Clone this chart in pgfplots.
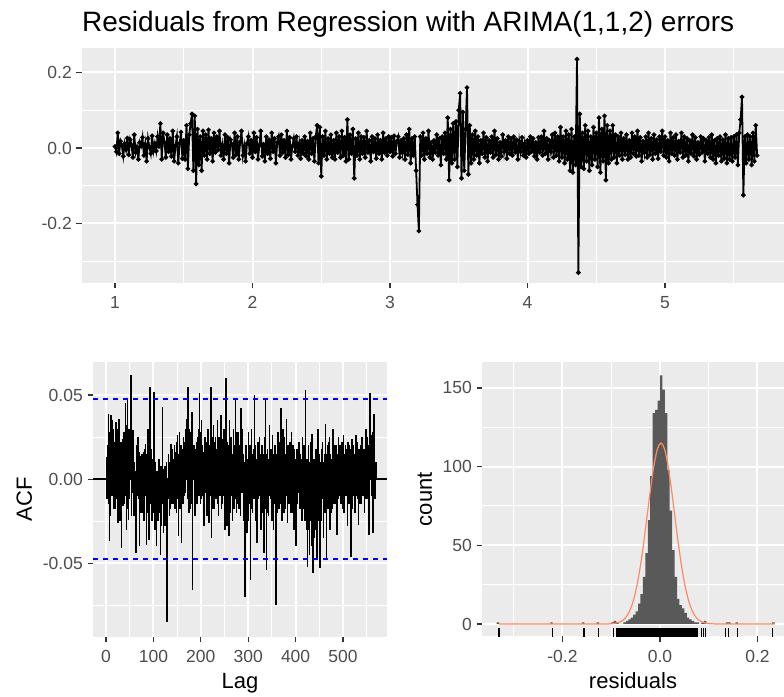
\documentclass[border=0pt]{standalone}
\usepackage{fontspec}
\setmainfont{Liberation Sans}
\usepackage{pgfplots}
\pgfplotsset{compat=1.18}
\definecolor{ggbg}{HTML}{EBEBEB}
\definecolor{ggtext}{HTML}{4D4D4D}
\definecolor{ggtick}{HTML}{333333}
\definecolor{histfill}{HTML}{595959}
\definecolor{curve}{HTML}{FF8A62}
\newcommand\ticksize{\fontsize{17.5bp}{20bp}\selectfont}
\newcommand\labsize{\fontsize{22bp}{26bp}\selectfont}
\pgfplotsset{
 gg/.style={
  scale only axis,
  scaled ticks=false,
  axis background/.style={fill=ggbg},
  axis x line*=bottom, axis y line*=left,
  axis line style={draw=none},
  grid=both,
  major grid style={white, line width=2bp},
  minor grid style={white, line width=1bp},
  tick align=outside,
  major tick length=5.5bp,
  minor tick length=0pt,
  tick style={color=ggtick, line width=1.1bp},
  xticklabel style={font=\ticksize, text=ggtext, anchor=north, inner sep=0pt, yshift=-8bp},
  yticklabel style={font=\ticksize, text=ggtext, anchor=east, inner sep=0pt, xshift=-4.5bp},
  every axis x label/.style={at={(axis description cs:0.5,-0.191)}, anchor=base, font=\labsize},
 }
}
\begin{document}
\begin{tikzpicture}
\useasboundingbox (0,0) rectangle (784bp,697bp);
% ---------------- top: residual series ----------------
\begin{axis}[gg, at={(82bp,414bp)}, anchor=south west, width=702bp, height=235bp,
  xmin=0.760, xmax=5.8655, ymin=-0.3576, ymax=0.2649,
  xtick={1,2,3,4,5}, xticklabels={1,2,3,4,5}, minor xtick={1.5,2.5,3.5,4.5,5.5},
  ytick={-0.2,0,0.2}, yticklabels={-0.2,0.0,0.2}, minor ytick={-0.3,-0.1,0.1},
  title={Residuals from Regression with ARIMA(1,1,2) errors},
  title style={font=\fontsize{28bp}{32bp}\selectfont, at={(axis description cs:0,1)}, anchor=base west, inner sep=0pt, yshift=11bp}]
\addplot[black, line width=1.8bp, mark=*, mark size=1.3bp, mark options={draw=none, fill=black}] coordinates {
(1.00,0.004)(1.01,-0.010)(1.02,0.040)(1.03,-0.015)(1.04,0.018)(1.05,0.006)(1.06,-0.022)(1.07,0.012)(1.08,-0.005)(1.09,0.026)
(1.10,-0.018)(1.11,0.022)(1.12,0.008)(1.13,-0.025)(1.14,0.035)(1.15,-0.012)(1.16,0.003)(1.17,-0.030)(1.18,0.015)(1.19,0.005)
(1.20,0.028)(1.21,-0.020)(1.22,0.010)(1.23,-0.035)(1.24,0.025)(1.25,0.003)(1.26,-0.015)(1.27,0.032)(1.28,-0.008)(1.29,0.012)
(1.30,-0.008)(1.31,0.030)(1.32,0.004)(1.33,0.065)(1.34,-0.030)(1.35,0.040)(1.36,0.015)(1.37,-0.025)(1.38,0.035)(1.39,-0.010)
(1.40,0.025)(1.41,-0.022)(1.42,0.045)(1.43,-0.035)(1.44,0.006)(1.45,0.030)(1.46,-0.040)(1.47,0.012)(1.48,0.042)(1.49,-0.028)
(1.50,0.020)(1.51,-0.030)(1.52,0.060)(1.53,-0.055)(1.54,0.035)(1.55,0.065)(1.56,0.090)(1.57,-0.060)(1.58,0.085)(1.59,-0.095)
(1.60,0.050)(1.61,-0.045)(1.62,0.030)(1.63,-0.060)(1.64,0.045)(1.65,-0.020)(1.66,0.035)(1.67,-0.030)(1.68,0.048)(1.69,-0.015)
(1.70,0.025)(1.71,-0.035)(1.72,0.040)(1.73,-0.012)(1.74,0.030)(1.75,-0.005)(1.76,0.045)(1.77,-0.020)(1.78,0.008)(1.79,-0.030)
(1.80,0.035)(1.81,-0.015)(1.82,0.028)(1.83,-0.040)(1.84,0.022)(1.85,0.010)(1.86,-0.025)(1.87,0.040)(1.88,-0.018)(1.89,0.030)
(1.90,-0.030)(1.91,0.015)(1.92,0.045)(1.93,-0.020)(1.94,0.005)(1.95,-0.035)(1.96,0.012)(1.97,0.030)(1.98,-0.015)(1.99,0.020)
(2.00,-0.025)(2.01,0.040)(2.02,-0.010)(2.03,0.028)(2.04,-0.030)(2.05,0.008)(2.06,0.045)(2.07,-0.022)(2.08,0.010)(2.09,-0.035)
(2.10,0.030)(2.11,-0.015)(2.12,0.022)(2.13,-0.028)(2.14,0.040)(2.15,-0.010)(2.16,0.025)(2.17,-0.040)(2.18,0.015)(2.19,0.030)
(2.20,-0.020)(2.21,0.035)(2.22,-0.012)(2.23,0.020)(2.24,-0.025)(2.25,0.045)(2.26,-0.018)(2.27,0.028)(2.28,-0.030)(2.29,0.005)
(2.30,0.025)(2.31,-0.010)(2.32,0.030)(2.33,-0.020)(2.34,0.012)(2.35,-0.028)(2.36,0.020)(2.37,-0.015)(2.38,0.030)(2.39,-0.022)
(2.40,0.018)(2.41,-0.030)(2.42,0.040)(2.43,-0.015)(2.44,0.025)(2.45,-0.035)(2.46,0.030)(2.47,0.060)(2.48,-0.040)(2.49,0.055)
(2.50,-0.075)(2.51,0.030)(2.52,-0.020)(2.53,0.045)(2.54,-0.030)(2.55,0.025)(2.56,-0.015)(2.57,0.035)(2.58,-0.025)(2.59,0.020)
(2.60,-0.030)(2.61,0.040)(2.62,-0.012)(2.63,0.030)(2.64,-0.025)(2.65,0.045)(2.66,-0.020)(2.67,0.028)(2.68,-0.035)(2.69,0.075)
(2.70,-0.030)(2.71,0.035)(2.72,-0.015)(2.73,0.050)(2.74,-0.080)(2.75,0.025)(2.76,-0.020)(2.77,0.040)(2.78,-0.030)(2.79,0.030)
(2.80,-0.015)(2.81,0.028)(2.82,-0.025)(2.83,0.045)(2.84,-0.012)(2.85,0.020)(2.86,-0.035)(2.87,0.030)(2.88,-0.010)(2.89,0.025)
(2.90,-0.028)(2.91,0.035)(2.92,-0.015)(2.93,0.020)(2.94,-0.030)(2.95,0.040)(2.96,-0.012)(2.97,0.025)(2.98,-0.020)(2.99,0.030)
(3.00,-0.010)(3.01,0.028)(3.02,-0.022)(3.03,0.032)(3.04,-0.015)(3.05,0.018)(3.06,0.030)(3.07,-0.025)(3.08,0.020)(3.09,-0.012)
(3.10,0.025)(3.11,-0.030)(3.12,0.035)(3.13,-0.018)(3.14,0.050)(3.15,-0.040)(3.16,0.025)(3.17,-0.020)(3.18,0.030)(3.19,-0.060)
(3.20,-0.150)(3.21,-0.220)(3.22,0.030)(3.23,-0.020)(3.24,0.040)(3.25,-0.030)(3.26,0.025)(3.27,-0.015)(3.28,0.045)(3.29,-0.025)
(3.30,0.015)(3.31,-0.030)(3.32,0.020)(3.33,-0.012)(3.34,0.035)(3.35,-0.020)(3.36,0.025)(3.37,-0.045)(3.38,0.030)(3.39,-0.015)
(3.40,0.040)(3.41,-0.030)(3.42,0.080)(3.43,-0.085)(3.44,0.050)(3.45,-0.040)(3.46,0.065)(3.47,-0.030)(3.48,0.070)(3.49,-0.050)
(3.50,0.100)(3.51,0.145)(3.52,-0.080)(3.53,0.095)(3.54,-0.060)(3.55,0.050)(3.56,0.160)(3.57,-0.070)(3.58,0.060)(3.59,-0.040)
(3.60,0.035)(3.61,-0.030)(3.62,0.045)(3.63,-0.020)(3.64,0.030)(3.65,-0.040)(3.66,0.020)(3.67,-0.015)(3.68,0.040)(3.69,-0.025)
(3.70,0.028)(3.71,-0.035)(3.72,0.020)(3.73,-0.012)(3.74,0.030)(3.75,-0.025)(3.76,0.045)(3.77,-0.018)(3.78,0.025)(3.79,-0.030)
(3.80,0.015)(3.81,-0.022)(3.82,0.035)(3.83,-0.010)(3.84,0.020)(3.85,-0.028)(3.86,0.030)(3.87,-0.015)(3.88,0.025)(3.89,-0.020)
(3.90,0.030)(3.91,-0.012)(3.92,0.022)(3.93,-0.030)(3.94,0.018)(3.95,-0.010)(3.96,0.028)(3.97,-0.020)(3.98,0.012)(3.99,-0.025)
(4.00,0.020)(4.01,-0.015)(4.02,0.030)(4.03,-0.010)(4.04,0.025)(4.05,-0.022)(4.06,0.015)(4.07,-0.030)(4.08,0.028)(4.09,-0.012)
(4.10,0.030)(4.11,-0.020)(4.12,0.045)(4.13,-0.015)(4.14,0.025)(4.15,-0.030)(4.16,0.020)(4.17,-0.010)(4.18,0.035)(4.19,-0.025)
(4.20,0.040)(4.21,-0.020)(4.22,0.030)(4.23,-0.035)(4.24,0.055)(4.25,-0.025)(4.26,0.030)(4.27,-0.040)(4.28,0.045)(4.29,-0.030)
(4.30,0.035)(4.31,-0.060)(4.32,0.050)(4.33,-0.065)(4.34,0.030)(4.35,-0.045)(4.36,0.235)(4.37,-0.330)(4.38,0.090)(4.39,-0.050)
(4.40,0.040)(4.41,-0.055)(4.42,0.060)(4.43,-0.035)(4.44,0.045)(4.45,-0.060)(4.46,0.030)(4.47,-0.045)(4.48,0.055)(4.49,-0.030)
(4.50,0.040)(4.51,-0.050)(4.52,0.080)(4.53,-0.065)(4.54,0.050)(4.55,-0.035)(4.56,0.085)(4.57,-0.085)(4.58,0.060)(4.59,-0.040)
(4.60,0.045)(4.61,-0.030)(4.62,0.060)(4.63,-0.025)(4.64,0.035)(4.65,-0.040)(4.66,0.030)(4.67,-0.020)(4.68,0.040)(4.69,-0.030)
(4.70,0.025)(4.71,-0.018)(4.72,0.035)(4.73,-0.030)(4.74,0.020)(4.75,-0.025)(4.76,0.040)(4.77,-0.015)(4.78,0.030)(4.79,-0.022)
(4.80,0.045)(4.81,-0.020)(4.82,0.028)(4.83,-0.035)(4.84,0.018)(4.85,-0.012)(4.86,0.030)(4.87,-0.025)(4.88,0.040)(4.89,-0.018)
(4.90,0.025)(4.91,-0.030)(4.92,0.035)(4.93,-0.015)(4.94,0.022)(4.95,-0.028)(4.96,0.030)(4.97,-0.010)(4.98,0.045)(4.99,-0.020)
(5.00,0.030)(5.01,-0.025)(5.02,0.020)(5.03,-0.035)(5.04,0.040)(5.05,-0.015)(5.06,0.028)(5.07,-0.020)(5.08,0.035)(5.09,-0.030)
(5.10,0.018)(5.11,-0.012)(5.12,0.040)(5.13,-0.025)(5.14,0.030)(5.15,-0.020)(5.16,0.025)(5.17,-0.035)(5.18,0.020)(5.19,-0.015)
(5.20,0.035)(5.21,-0.022)(5.22,0.028)(5.23,-0.030)(5.24,0.015)(5.25,-0.018)(5.26,0.030)(5.27,-0.012)(5.28,0.025)(5.29,-0.035)
(5.30,0.020)(5.31,-0.015)(5.32,0.028)(5.33,-0.025)(5.34,0.035)(5.35,-0.030)(5.36,0.020)(5.37,-0.040)(5.38,0.025)(5.39,-0.020)
(5.40,0.030)(5.41,-0.035)(5.42,0.022)(5.43,-0.028)(5.44,0.035)(5.45,-0.040)(5.46,0.025)(5.47,-0.030)(5.48,0.028)(5.49,-0.035)
(5.50,0.030)(5.51,-0.025)(5.52,0.035)(5.53,-0.045)(5.54,0.040)(5.55,0.075)(5.56,0.135)(5.57,-0.125)(5.58,0.030)(5.59,-0.040)
(5.60,0.035)(5.61,-0.030)(5.62,0.030)(5.63,-0.045)(5.64,0.040)(5.65,-0.035)(5.66,0.060)(5.67,-0.020)
};
\end{axis}
% ---------------- bottom left: ACF ----------------
\begin{axis}[gg, at={(93bp,60.5bp)}, anchor=south west, width=294bp, height=274.5bp,
  xmin=-27.4, xmax=592.8, ymin=-0.0935, ymax=0.0696,
  xtick={0,100,200,300,400,500}, xticklabels={0,100,200,300,400,500},
  minor xtick={50,150,250,350,450,550},
  ytick={-0.05,0,0.05}, yticklabels={-0.05,0.00,0.05}, minor ytick={-0.075,-0.025,0.025},
  xlabel={Lag}, ylabel={ACF},
  every axis y label/.style={at={(axis description cs:-0.2075,0.5)}, rotate=90, anchor=base, font=\labsize}]
% odd lags
\addplot[ycomb, black, line width=1.5bp] coordinates {
(1,0.013)(3,-0.005)(5,0.039)(7,-0.037)(9,0.025)(11,0.038)(13,-0.010)(15,0.030)(17,0.022)(19,-0.018)
(21,0.034)(23,0.010)(25,-0.026)(27,0.036)(29,0.015)(31,-0.020)(33,-0.041)(35,0.024)(37,0.005)(39,-0.015)
(41,0.045)(43,-0.030)(45,0.048)(47,-0.024)(49,0.030)(51,0.010)(53,0.062)(55,-0.008)(57,0.029)(59,-0.022)
(61,0.005)(63,-0.044)(65,0.018)(67,0.025)(69,-0.012)(71,-0.040)(73,0.014)(75,0.006)(77,-0.020)(79,0.016)
(81,-0.008)(83,0.021)(85,-0.039)(87,0.012)(89,0.030)(91,-0.036)(93,0.055)(95,0.018)(97,-0.025)(99,0.012)
(101,0.052)(103,-0.030)(105,-0.008)(107,-0.040)(109,0.005)(111,-0.018)(113,-0.012)(115,-0.045)(117,-0.028)(119,0.043)
(121,-0.032)(123,-0.020)(125,0.008)(127,-0.015)(129,-0.085)(131,-0.012)(133,0.010)(135,-0.018)(137,0.021)(139,-0.015)
(141,0.012)(143,-0.010)(145,0.004)(147,0.016)(149,-0.020)(151,0.026)(153,-0.034)(155,0.028)(157,0.005)(159,-0.038)
(161,0.018)(163,-0.012)(165,0.022)(167,-0.008)(169,0.030)(171,0.036)(173,0.055)(175,-0.020)(177,0.028)(179,-0.015)
(181,0.040)(183,-0.066)(185,0.010)(187,-0.005)(189,0.018)(191,0.022)(193,-0.012)(195,0.030)(197,0.051)(199,-0.015)
(201,0.035)(203,-0.010)(205,0.016)(207,-0.028)(209,0.025)(211,0.012)(213,-0.022)(215,0.030)(217,-0.026)(219,0.020)
(221,0.055)(223,-0.035)(225,0.010)(227,0.032)(229,-0.018)(231,0.025)(233,0.005)(235,0.035)(237,-0.022)(239,0.018)
(241,-0.010)(243,0.038)(245,-0.015)(247,0.024)(249,0.030)(251,-0.030)(253,0.060)(255,-0.028)(257,0.020)(259,-0.034)
(261,0.035)(263,-0.012)(265,0.025)(267,-0.025)(269,0.030)(271,0.010)(273,0.047)(275,-0.020)(277,0.022)(279,0.028)
(281,-0.018)(283,0.012)(285,0.042)(287,-0.008)(289,0.015)(291,-0.025)(293,-0.070)(295,0.020)(297,-0.032)(299,0.010)
(301,0.028)(303,-0.015)(305,-0.060)(307,0.030)(309,-0.020)(311,0.018)(313,0.050)(315,-0.025)(317,0.012)(319,-0.038)
(321,0.022)(323,-0.010)(325,0.015)(327,-0.030)(329,0.020)(331,0.008)(333,-0.044)(335,0.025)(337,0.047)(339,-0.054)
(341,0.018)(343,-0.022)(345,0.032)(347,-0.012)(349,0.010)(351,0.026)(353,-0.030)(355,0.020)(357,-0.015)(359,-0.075)
(361,0.015)(363,0.028)(365,-0.018)(367,0.012)(369,0.042)(371,-0.025)(373,0.030)(375,-0.020)(377,0.020)(379,-0.010)
(381,0.036)(383,-0.026)(385,0.015)(387,0.008)(389,-0.020)(391,0.028)(393,-0.012)(395,0.020)(397,-0.030)(399,0.012)
(401,-0.040)(403,0.018)(405,-0.008)(407,0.022)(409,-0.018)(411,0.010)(413,-0.025)(415,0.025)(417,-0.012)(419,0.015)
(421,0.053)(423,-0.030)(425,-0.052)(427,0.020)(429,-0.045)(431,0.022)(433,-0.040)(435,0.027)(437,-0.056)(439,0.012)
(441,-0.030)(443,0.018)(445,-0.048)(447,0.030)(449,-0.025)(451,-0.053)(453,0.010)(455,-0.020)(457,0.022)(459,-0.035)
(461,0.015)(463,0.033)(465,-0.047)(467,0.020)(469,-0.012)(471,0.025)(473,-0.030)(475,0.012)(477,-0.018)(479,0.030)
(481,0.008)(483,-0.015)(485,0.020)(487,-0.033)(489,0.015)(491,0.025)(493,-0.010)(495,0.018)(497,0.008)(499,-0.018)
(501,0.026)(503,-0.012)(505,0.020)(507,0.005)(509,-0.028)(511,0.022)(513,-0.015)(515,0.018)(517,-0.046)(519,0.024)
(521,-0.010)(523,0.015)(525,-0.020)(527,0.026)(529,-0.008)(531,0.020)(533,-0.027)(535,0.018)(537,0.010)(539,-0.015)
(541,0.025)(543,0.012)(545,-0.020)(547,0.028)(549,0.030)(551,-0.012)(553,0.020)(555,-0.033)(557,0.051)(559,0.026)
(561,0.010)(563,-0.032)(565,0.039)(567,0.008)(569,0.008)
};
% even lags
\addplot[ycomb, black, line width=1.5bp] coordinates {
(2,-0.012)(4,0.020)(6,-0.015)(8,0.028)(10,-0.022)(12,-0.008)(14,0.035)(16,-0.018)(18,0.010)(20,0.026)
(22,-0.012)(24,0.030)(26,0.018)(28,-0.020)(30,-0.025)(32,0.022)(34,0.012)(36,-0.016)(38,0.028)(40,0.020)
(42,-0.010)(44,0.032)(46,-0.018)(48,0.015)(50,-0.012)(52,0.035)(54,-0.022)(56,0.018)(58,-0.014)(60,0.010)
(62,-0.018)(64,0.020)(66,-0.010)(68,0.008)(70,0.016)(72,0.012)(74,-0.020)(76,0.015)(78,0.010)(80,-0.025)
(82,0.018)(84,-0.010)(86,0.015)(88,-0.020)(90,0.010)(92,0.020)(94,-0.015)(96,0.012)(98,0.008)(100,-0.020)
(102,-0.012)(104,0.010)(106,-0.022)(108,0.005)(110,-0.025)(112,0.012)(114,-0.020)(116,0.008)(118,-0.015)(120,-0.010)
(122,0.006)(124,-0.028)(126,-0.012)(128,0.010)(130,-0.020)(132,0.015)(134,-0.022)(136,0.008)(138,-0.012)(140,0.018)
(142,-0.015)(144,0.020)(146,-0.018)(148,0.010)(150,0.022)(152,-0.012)(154,0.015)(156,-0.018)(158,0.020)(160,0.012)
(162,-0.015)(164,0.025)(166,-0.010)(168,0.020)(170,0.015)(172,-0.012)(174,0.022)(176,0.030)(178,-0.018)(180,0.025)
(182,-0.010)(184,0.015)(186,0.020)(188,-0.022)(190,0.012)(192,-0.015)(194,0.025)(196,-0.010)(198,0.018)(200,0.028)
(202,-0.012)(204,0.020)(206,-0.018)(208,0.015)(210,-0.008)(212,0.022)(214,0.010)(216,-0.015)(218,0.020)(220,-0.010)
(222,0.015)(224,0.025)(226,-0.018)(228,0.012)(230,0.022)(232,-0.012)(234,0.018)(236,-0.015)(238,0.025)(240,0.010)
(242,0.020)(244,-0.018)(246,0.015)(248,-0.010)(250,0.012)(252,0.020)(254,-0.015)(256,0.022)(258,-0.012)(260,0.018)
(262,-0.020)(264,0.025)(266,-0.010)(268,0.015)(270,-0.018)(272,0.020)(274,-0.012)(276,0.028)(278,-0.015)(280,0.010)
(282,0.020)(284,-0.022)(286,0.015)(288,0.030)(290,-0.012)(292,0.010)(294,0.018)(296,-0.015)(298,0.012)(300,-0.025)
(302,0.010)(304,0.020)(306,0.012)(308,-0.018)(310,0.015)(312,-0.012)(314,0.020)(316,0.010)(318,-0.020)(320,0.018)
(322,-0.012)(324,0.025)(326,-0.015)(328,0.010)(330,-0.020)(332,0.015)(334,0.012)(336,-0.018)(338,0.010)(340,0.015)
(342,-0.020)(344,0.012)(346,-0.010)(348,0.018)(350,-0.025)(352,0.010)(354,0.015)(356,-0.012)(358,0.020)(360,0.010)
(362,-0.020)(364,0.012)(366,0.022)(368,-0.015)(370,0.010)(372,0.018)(374,-0.012)(376,0.025)(378,-0.018)(380,0.015)
(382,-0.010)(384,0.020)(386,-0.015)(388,0.022)(390,0.012)(392,-0.020)(394,0.015)(396,-0.010)(398,0.018)(400,-0.022)
(402,0.010)(404,-0.015)(406,0.020)(408,-0.012)(410,0.015)(412,-0.020)(414,0.012)(416,-0.018)(418,0.020)(420,-0.025)
(422,-0.015)(424,0.012)(426,-0.020)(428,-0.030)(430,0.010)(432,-0.025)(434,0.015)(436,-0.030)(438,-0.018)(440,-0.035)
(442,0.010)(444,-0.028)(446,0.012)(448,-0.020)(450,0.015)(452,-0.015)(454,-0.025)(456,0.018)(458,-0.012)(460,0.010)
(462,-0.020)(464,0.012)(466,0.015)(468,-0.018)(470,0.022)(472,-0.010)(474,0.015)(476,-0.020)(478,0.012)(480,-0.015)
(482,0.020)(484,0.010)(486,-0.018)(488,0.015)(490,-0.012)(492,0.010)(494,0.020)(496,-0.015)(498,0.022)(500,0.012)
(502,-0.020)(504,0.015)(506,-0.010)(508,0.018)(510,0.012)(512,-0.015)(514,0.020)(516,-0.012)(518,0.010)(520,-0.018)
(522,0.020)(524,-0.015)(526,0.012)(528,-0.010)(530,0.022)(532,-0.012)(534,0.018)(536,-0.015)(538,0.020)(540,0.025)
(542,-0.010)(544,0.018)(546,0.015)(548,-0.012)(550,0.020)(552,0.025)(554,-0.015)(556,0.018)(558,0.012)(560,-0.010)
(562,0.028)(564,0.015)(566,0.010)(568,-0.012)(570,0.010)
};
\addplot[black, line width=1.3bp] coordinates {(-27.4,0)(592.8,0)};
\addplot[blue, line width=1.5bp, dash pattern=on 5bp off 5bp] coordinates {(-27.4,0.0475)(592.8,0.0475)};
\addplot[blue, line width=1.5bp, dash pattern=on 5bp off 5bp] coordinates {(-27.4,-0.0475)(592.8,-0.0475)};
\end{axis}
% ---------------- bottom right: histogram ----------------
\begin{axis}[gg, at={(482bp,60.5bp)}, anchor=south west, width=302bp, height=274.5bp,
  xmin=-0.3651, xmax=0.2544, ymin=-7.95, ymax=166.5,
  xtick={-0.2,0,0.2}, xticklabels={-0.2,0.0,0.2}, minor xtick={-0.3,-0.1,0.1},
  ytick={0,50,100,150}, yticklabels={0,50,100,150}, minor ytick={25,75,125},
  xlabel={residuals}, ylabel={count},
  every axis y label/.style={at={(axis description cs:-0.1656,0.5)}, rotate=90, anchor=base, font=\labsize}]
\addplot[ybar interval, fill=histfill, draw=none] coordinates {
(-0.335,1)(-0.330,0)(-0.225,1)(-0.220,0)(-0.160,1)(-0.155,0)(-0.130,1)(-0.125,0)
(-0.100,1)(-0.095,2)(-0.090,1)(-0.085,0)(-0.075,1)(-0.070,2)(-0.065,3)(-0.060,4)(-0.055,6)(-0.050,8)
(-0.045,13)(-0.040,19)(-0.035,30)(-0.030,45)(-0.025,66)(-0.020,94)(-0.015,134)(-0.010,136)(-0.005,142)
(0.000,158)(0.005,149)(0.010,134)(0.015,98)(0.020,72)(0.025,47)(0.030,30)(0.035,16)(0.040,12)(0.045,10)
(0.050,7)(0.055,4)(0.060,3)(0.065,2)(0.070,1)(0.075,1)(0.080,0)(0.085,1)(0.090,2)(0.095,0)
(0.135,1)(0.140,1)(0.145,0)(0.155,1)(0.160,0)(0.230,1)(0.235,0)
};
\addplot[curve, line width=1.2bp, smooth] coordinates {
(-0.330,0)(-0.120,0)(-0.110,0.04)(-0.096,0.25)(-0.082,1.28)(-0.075,2.62)(-0.068,5.05)(-0.061,9.15)
(-0.054,15.6)(-0.047,24.9)(-0.040,37.3)(-0.033,52.6)(-0.026,69.7)(-0.019,86.8)(-0.012,101.5)(-0.005,111.5)
(0.002,115)(0.009,111.5)(0.016,101.5)(0.023,86.8)(0.030,69.7)(0.037,52.6)(0.044,37.3)(0.051,24.9)
(0.058,15.6)(0.065,9.15)(0.072,5.05)(0.079,2.62)(0.086,1.28)(0.100,0.25)(0.114,0.04)(0.124,0)(0.235,0)
};
\addplot[black, line width=8.2bp] coordinates {(-0.0905,-5.35)(0.0775,-5.35)};
\addplot[only marks, mark=|, mark size=4.1bp, mark options={black, line width=1.3bp}] coordinates {
(-0.330,-5.35)(-0.220,-5.35)(-0.156,-5.35)(-0.1265,-5.35)(-0.096,-5.35)(0.0855,-5.35)(0.089,-5.35)
(0.094,-5.35)(0.135,-5.35)(0.141,-5.35)(0.159,-5.35)(0.231,-5.35)
};
\end{axis}
\end{tikzpicture}
\end{document}
